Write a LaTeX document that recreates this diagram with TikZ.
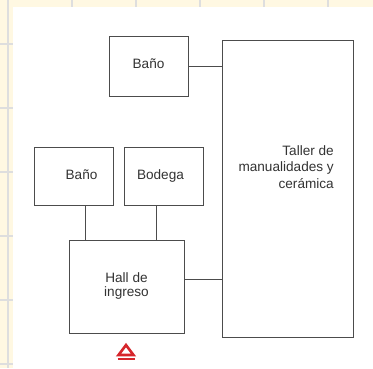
\documentclass[tikz,border=0pt]{standalone}
\usepackage{fontspec}
\setmainfont{Liberation Sans}
\usetikzlibrary{calc}
\definecolor{papel}{HTML}{FFF8E2}
\definecolor{rejilla}{HTML}{DEDEDE}
\definecolor{entrada}{HTML}{D6262C}
\definecolor{tinta}{HTML}{333333}
\def\salon{\fontsize{13.6}{16.7}\selectfont}
\tikzset{
  room/.style={draw=black!70, line width=0.8pt, rectangle, inner sep=0pt, text=tinta, font=\salon, align=center},
  wall/.style={draw=black!70, line width=0.8pt}
}

\begin{document}
\begin{tikzpicture}[x=1pt, y=-1pt]
			%%%%% START %%%%%
			\useasboundingbox (0,0) rectangle (373,368);
			
			\fill[papel] (0,0) rectangle (373,368);
			\foreach \x in {8,72,...,328}
				\draw[line width=1.8pt, color=rejilla] (\x,0) -- (\x,368);
			\foreach \y in {44,108,...,364}
				\draw[line width=1.8pt, color=rejilla] (0,\y) -- (373,\y);
			\fill[white] (13,7) rectangle (373,368);
			
			\node[room, minimum width=79pt, minimum height=60pt] (bano1) at (148.5,66) {\raisebox{4pt}{Baño}};
			\node[room, minimum width=131pt, minimum height=297pt] (taller) at (287.5,188.5) {};
			\node[inner sep=0pt, anchor=east, align=right, text=tinta, font=\salon] (tallertxt) at (334,167) {Taller de\\manualidades y\\cerámica};
			
			\node[room, minimum width=79pt, minimum height=58pt] (bano2) at (73.5,176) {\raisebox{2pt}{\hspace*{16pt}Baño}};
			\node[room, minimum width=79pt, minimum height=58pt] (bodega) at (164,176) {\raisebox{2pt}{Bodega\hspace*{7pt}}};
			\node[room, minimum width=115pt, minimum height=93pt] (hall) at (126.5,286.5) {\raisebox{3pt}{\shortstack{Hall de\\[1pt]ingreso}}};
			
			\draw[wall] (bano1.east) -- (bano1.east -| taller.west);
			\draw[wall] ([xshift=11.5pt]bano2.south) coordinate (b2) -- (b2 |- hall.north);
			\draw[wall] ([xshift=-8pt]bodega.south) coordinate (bd) -- (bd |- hall.north);
			\draw[wall] ([yshift=7.5pt]hall.east) coordinate (hl) -- (hl -| taller.west);
			
			\draw[line width=2.6pt, color=entrada, line join=miter] (126,345) -- (133.5,355) -- (118.5,355) -- cycle;
			\draw[line width=2.4pt, color=entrada] (117.5,359) -- (134.5,359);
			
			%%%%% END %%%%%
\end{tikzpicture}
\end{document}
